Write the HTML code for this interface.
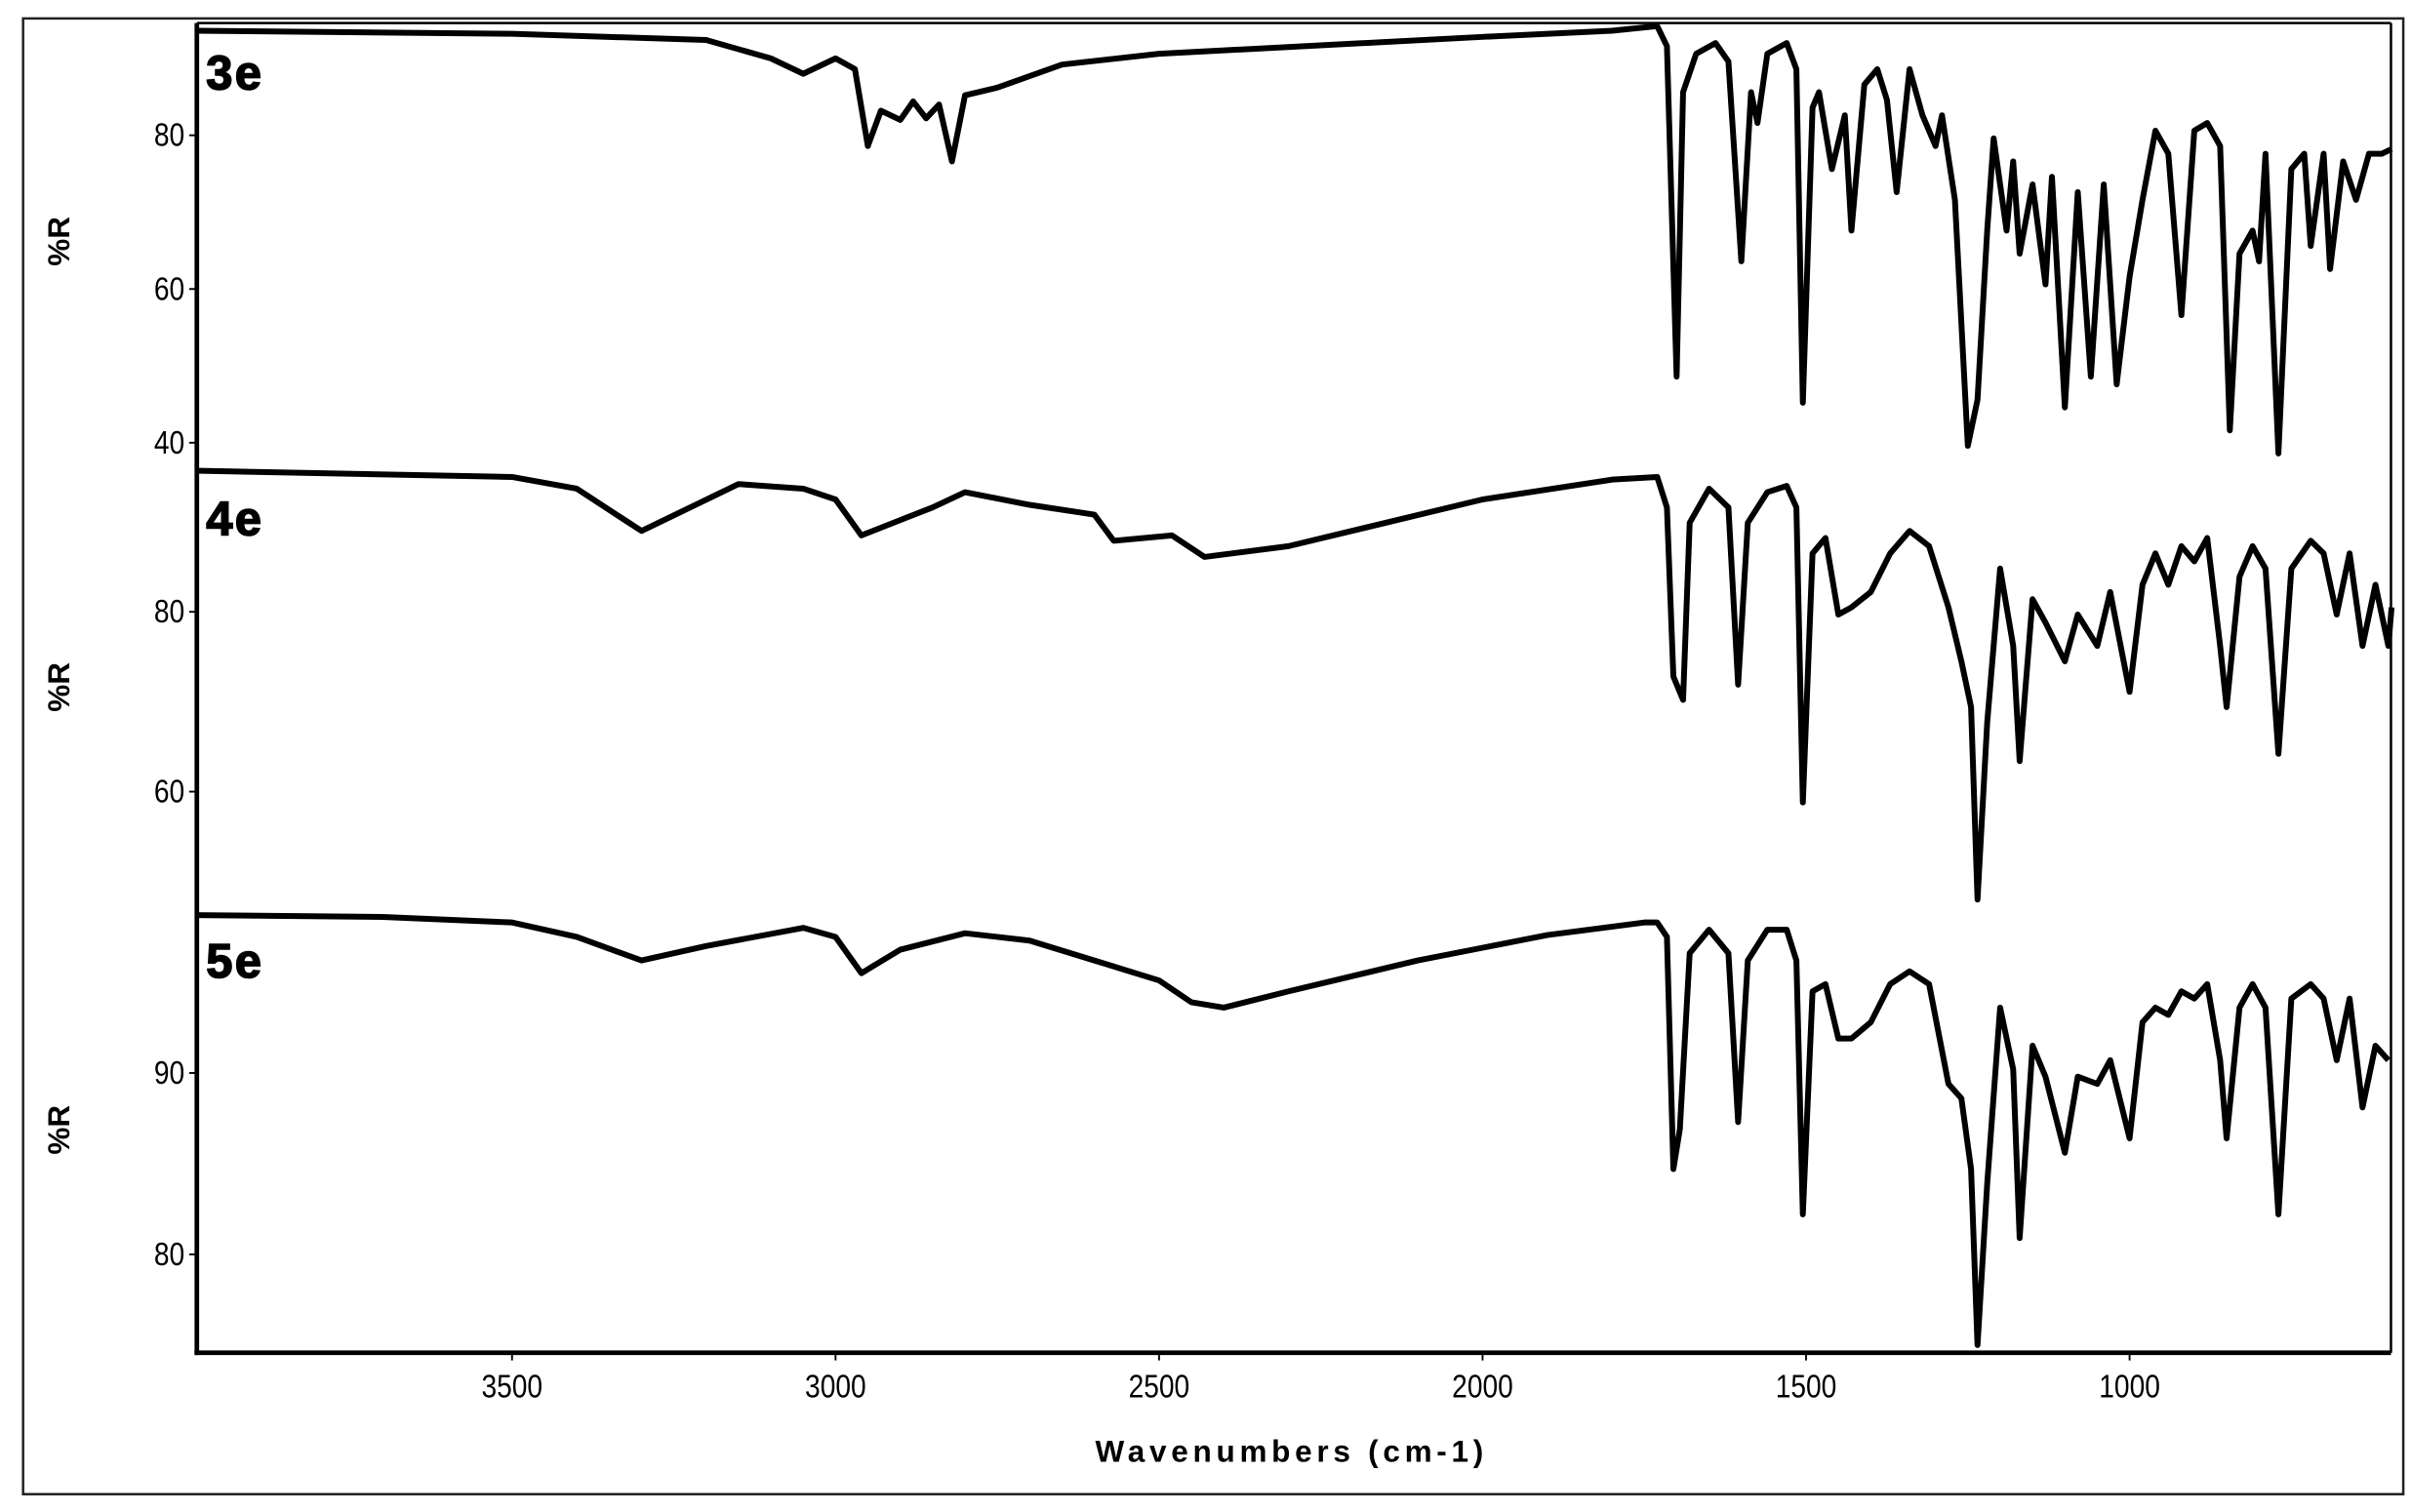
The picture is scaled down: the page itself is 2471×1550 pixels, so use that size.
<!DOCTYPE html>
<html><head><meta charset="utf-8"><style>
html,body{margin:0;padding:0;background:#fff}
svg{display:block}
text{font-family:"Liberation Sans",sans-serif;fill:#000}
</style></head><body>
<svg width="2471" height="1550" viewBox="0 0 1568 983.6" xmlns="http://www.w3.org/2000/svg">
<rect x="15" y="12" width="1548" height="960" fill="none" stroke="#222" stroke-width="1.6"/>
<g id="g"></g>
</svg>
<script>
const xTicks=[3500,3000,2500,2000,1500,1000];
const xTitle="Wavenumbers (cm-1)";
const wn3e=[3990,3500,3200,3100,3050,3000,2970,2950,2930,2900,2880,2860,2840,2820,2800,2750,2650,2500,2000,1800,1730,1715,1700,1690,1670,1640,1620,1600,1585,1575,1560,1530,1515,1505,1490,1480,1460,1440,1430,1410,1390,1375,1360,1340,1320,1300,1290,1270,1250,1235,1220,1210,1190,1180,1170,1150,1130,1120,1100,1080,1060,1040,1020,1000,980,960,940,920,900,880,860,845,830,810,800,790,770,750,730,720,700,690,670,650,630,610,595];
const r3e=[93.6,93.2,92.4,90,88,90,88.6,78.6,83.2,82,84.4,82.2,84,76.6,85.2,86.2,89.2,90.6,92.8,93.6,94.2,91.6,48.6,85.6,90.6,92,89.6,63.6,85.6,81.6,90.6,92,88.6,45.2,83.6,85.6,75.6,82.6,67.6,86.6,88.6,84.6,72.6,88.6,82.6,78.6,82.6,71.6,39.6,45.6,67.6,79.6,67.6,76.6,64.6,73.6,60.6,74.6,44.6,72.6,48.6,73.6,47.6,61.6,71.6,80.6,77.6,56.6,80.6,81.6,78.6,41.6,64.6,67.6,63.6,77.6,38.6,75.6,77.6,65.6,77.6,62.6,76.6,71.6,77.6,77.6,78.2];
const wn4e=[3990,3500,3400,3300,3150,3050,3000,2960,2900,2850,2800,2700,2600,2570,2480,2430,2300,2000,1800,1730,1715,1705,1690,1680,1650,1620,1605,1590,1560,1530,1515,1505,1490,1470,1450,1430,1400,1370,1340,1310,1280,1260,1245,1235,1220,1200,1180,1170,1150,1130,1100,1080,1050,1030,1000,980,960,940,920,900,880,860,850,830,810,790,770,750,720,700,680,660,640,620,600,595];
const r4e=[95.7,95.0,93.7,89.0,94.2,93.7,92.5,88.5,90.2,91.6,93.3,91.9,90.8,87.9,88.5,86.1,87.3,92.5,94.7,95.0,91.6,72.8,70.2,89.9,93.7,91.6,71.9,89.9,93.3,94.0,91.6,58.8,86.5,88.2,79.7,80.5,82.2,86.5,89.0,87.3,80.5,74.5,69.4,48.0,67.7,84.8,76.2,63.4,81.4,78.8,74.5,79.7,76.2,82.2,71.1,83.0,86.5,83.0,87.3,85.6,88.2,76.2,69.4,83.9,87.3,84.8,64.2,84.8,87.9,86.5,79.7,86.5,76.2,83.0,76.2,80.5];
const wn5e=[3990,3700,3500,3400,3300,3200,3050,3000,2960,2900,2800,2700,2600,2500,2450,2400,2300,2100,1900,1750,1730,1715,1705,1695,1680,1650,1620,1605,1590,1560,1530,1515,1505,1490,1470,1450,1430,1400,1370,1340,1310,1280,1260,1245,1235,1220,1200,1180,1170,1150,1130,1100,1080,1050,1030,1000,980,960,940,920,900,880,860,850,830,810,790,770,750,720,700,680,660,640,620,600];
const r5e=[98.7,98.6,98.3,97.5,96.2,97.0,98.0,97.5,95.5,96.8,97.7,97.3,96.2,95.1,93.9,93.6,94.5,96.2,97.6,98.3,98.3,97.5,84.7,86.9,96.6,97.9,96.6,87.3,96.2,97.9,97.9,96.2,82.2,94.5,94.9,91.9,91.9,92.8,94.9,95.6,94.9,89.4,88.6,84.7,75.0,83.9,93.6,90.2,80.9,91.5,89.8,85.6,89.8,89.4,90.7,86.4,92.8,93.6,93.2,94.5,94.1,94.9,90.7,86.4,93.6,94.9,93.6,82.2,94.1,94.9,94.1,90.7,94.1,88.1,91.5,90.7];
const panelNames=["3e","4e","5e"];
const yTicks3e=[80,60,40], yTicks4e=[80,60], yTicks5e=[90,80];

const NS="http://www.w3.org/2000/svg", G=document.getElementById('g');
const L=128,R=1555,T=15,B=880;
const X=w=>333+(3500-w)*0.4208;
const panels=[
 {name:panelNames[0],wn:wn3e,r:r3e,ticks:yTicks3e,Y:v=>88+(80-v)*5,lab:47,rl:157},
 {name:panelNames[1],wn:wn4e,r:r4e,ticks:yTicks4e,Y:v=>398+(80-v)*5.85,lab:337,rl:447},
 {name:panelNames[2],wn:wn5e,r:r5e,ticks:yTicks5e,Y:v=>698+(90-v)*11.8,lab:625,rl:735}
];
function mk(t,a,txt){const e=document.createElementNS(NS,t);for(const k in a)e.setAttribute(k,a[k]);if(txt!=null)e.textContent=txt;G.appendChild(e);return e;}
let e;
e=mk('line',{x1:L,y1:T,x2:R,y2:T,stroke:'#000','stroke-width':1.6});


e=mk('line',{x1:R,y1:T,x2:R,y2:B,stroke:'#000','stroke-width':1.6});


panels.forEach(p=>{
 const n=Math.min(p.wn.length,p.r.length);let d='';
 for(let i=0;i<n;i++)d+=(i?'L':'M')+X(p.wn[i]).toFixed(1)+' '+p.Y(p.r[i]).toFixed(1);
 e=mk('path',{d:d,fill:'none',stroke:'#000','stroke-width':3.8,'stroke-linejoin':'round'});
 
 
 e=mk('text',{x:134,y:p.lab+11,'font-size':31,'font-weight':'bold','letter-spacing':'1.5',stroke:'#000','stroke-width':1},p.name);
 
 
 e=mk('text',{x:45,y:p.rl,'font-size':20,'font-weight':'bold','text-anchor':'middle',transform:'rotate(-90 45 '+p.rl+')'},'%R');
 
 
 p.ticks.forEach(t=>{
  const y=p.Y(t);
  e=mk('line',{x1:L-5,y1:y,x2:L,y2:y,stroke:'#000','stroke-width':1.2});
  
  
  e=mk('text',{x:(L-8)/0.85,y:y+7,'font-size':21,'text-anchor':'end',transform:'scale(0.85 1)'},String(t));
  
  
 });
});
e=mk('line',{x1:L,y1:T,x2:L,y2:B+1.5,stroke:'#000','stroke-width':3});


e=mk('line',{x1:L-1.5,y1:B,x2:R,y2:B,stroke:'#000','stroke-width':3});


xTicks.forEach(t=>{
 const x=X(t);
 e=mk('line',{x1:x,y1:B,x2:x,y2:B+5,stroke:'#000','stroke-width':1.2});
 
 
 e=mk('text',{x:x/0.85,y:B+29,'font-size':21,'text-anchor':'middle',transform:'scale(0.85 1)'},String(t));
 
 
});
e=mk('text',{x:840,y:951,'font-size':20,'font-weight':'bold','text-anchor':'middle','letter-spacing':'3'},xTitle);


</script>
</body></html>
